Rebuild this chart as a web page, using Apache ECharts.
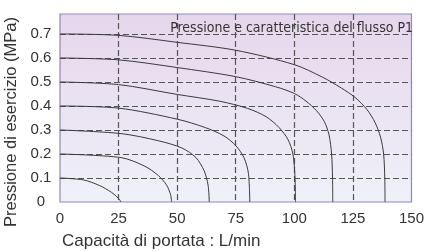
<!DOCTYPE html>
<html>
<head>
<meta charset="utf-8">
<script src="https://cdn.jsdelivr.net/npm/echarts@6/dist/echarts.min.js"></script>
<style>
html,body{margin:0;padding:0;background:#fff;}
#c{width:427px;height:251px;}
</style>
</head>
<body>
<div id="c"></div>
<script>
// Flow characteristic curves: [flow L/min, pressure MPa]
const curve07 = [[0,0.70],[25,0.694],[50,0.665],[75,0.632],[100,0.572],[112,0.52],[120,0.475],[126,0.435],[131,0.385],[134.5,0.33],[136.8,0.27],[138.1,0.2],[138.6,0.1],[138.7,0]];
const curve06 = [[0,0.60],[25,0.592],[50,0.56],[75,0.522],[92,0.48],[100,0.452],[105,0.42],[109.5,0.38],[112.8,0.335],[114.8,0.28],[115.9,0.2],[116.3,0.1],[116.4,0]];
const curve05 = [[0,0.50],[25,0.489],[50,0.448],[68,0.42],[80,0.39],[88,0.355],[93.5,0.31],[97.3,0.26],[99.4,0.2],[100.3,0.1],[100.5,0]];
const curve04 = [[0,0.40],[25,0.391],[50,0.345],[62,0.31],[70,0.275],[75,0.235],[78.5,0.185],[80.4,0.12],[81,0]];
const curve03 = [[0,0.30],[26,0.285],[42,0.255],[52,0.225],[58,0.185],[61.5,0.13],[63.2,0.07],[63.7,0]];
const curve02 = [[0,0.20],[26,0.185],[36,0.15],[42,0.11],[45.5,0.07],[47.2,0.03],[47.6,0]];
const curve01 = [[0,0.10],[10,0.092],[17,0.068],[22,0.04],[25,0.015],[26,0]];
const curves = [curve07, curve06, curve05, curve04, curve03, curve02, curve01];

const xTicks = [0,25,50,75,100,125,150];
const yTicks = [0,0.1,0.2,0.3,0.4,0.5,0.6,0.7];

const chartTitle = 'Pressione e caratteristica del flusso P1';
const xName = 'Capacità di portata : L/min';
const yName = 'Pressione di esercizio (MPa)';

const chart = echarts.init(document.getElementById('c'));
const font = 'Liberation Sans, Arial, Helvetica, sans-serif';
const dash = {color:'#555', width:1.2, type:[6,3]};

chart.setOption({
  animation:false,
  grid:{left:60,right:10,top:14,bottom:49,show:true,borderColor:'#9186bd',borderWidth:1.2,
    backgroundColor:new echarts.graphic.LinearGradient(0,0,0,1,[{offset:0,color:'#e6d6ec'},{offset:1,color:'#eff1f9'}])},
  xAxis:{type:'value',min:0,max:150,interval:25,
    axisLine:{show:false},axisTick:{show:false},
    axisLabel:{color:'#333',fontSize:15,fontFamily:font,margin:9,
      formatter:v=>xTicks.includes(v)?String(v):''},
    splitLine:{show:true,lineStyle:dash,showMinLine:false,showMaxLine:false}},
  yAxis:{type:'value',min:0,max:0.783,interval:0.1,
    axisLine:{show:false},axisTick:{show:false},
    axisLabel:{color:'#333',fontSize:15,fontFamily:font,margin:19,align:'center',showMaxLabel:false,
      formatter:v=>{const t=yTicks.find(y=>Math.abs(y-v)<1e-6);return t===undefined?'':String(t);}},
    splitLine:{show:true,lineStyle:dash,showMinLine:false,showMaxLine:false}},
  series:curves.map(c=>({type:'line',data:c,showSymbol:false,smooth:0.3,
    lineStyle:{color:'#3a3a3a',width:1},z:3})),
  graphic:[
    {type:'text',right:14,top:21,z:10,style:{text:chartTitle,fill:'#333',font:'14px "Liberation Sans Narrow", "DejaVu Sans Condensed", sans-serif'}},
    {type:'text',left:62,top:233,style:{text:xName,fill:'#333',font:'17px '+font}},
    {type:'text',x:3,y:227,rotation:Math.PI/2,style:{text:yName,fill:'#333',font:'16.5px '+font,textVerticalAlign:'top'}}
  ]
});
</script>
</body>
</html>
